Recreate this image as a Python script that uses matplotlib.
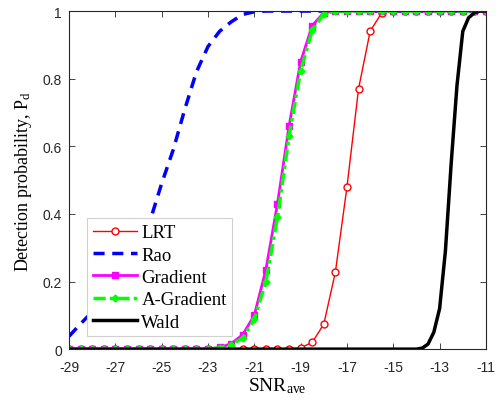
import numpy as np
import matplotlib
matplotlib.use("Agg")
import matplotlib.pyplot as plt

plt.rcParams['mathtext.fontset'] = 'custom'
plt.rcParams['mathtext.rm'] = 'Liberation Serif'
plt.rcParams['mathtext.it'] = 'Liberation Serif:italic'

snr = np.arange(-29, -10.99, 0.5)

lrt = [0]*20 + [0.004, 0.02, 0.074, 0.228, 0.48, 0.77, 0.94, 0.995] + [1.0]*9
rao = [0.038, 0.075, 0.11, 0.15, 0.195, 0.245, 0.30, 0.38, 0.49, 0.59, 0.71,
       0.82, 0.895, 0.94, 0.968, 0.99, 0.998] + [1.0]*20
grad = [0]*13 + [0.005, 0.016, 0.043, 0.10, 0.235, 0.43, 0.66, 0.85, 0.957,
                 0.995] + [1.0]*14
agrad = [0]*13 + [0.004, 0.013, 0.033, 0.088, 0.20, 0.39, 0.63, 0.824, 0.943,
                  0.992] + [1.0]*14
wald_x = [-29, -28, -27, -26, -25, -24, -23, -22, -21, -20, -19, -18, -17, -16,
          -15, -14, -13.75, -13.5, -13.25, -13, -12.75, -12.5, -12.25, -12,
          -11.75, -11.5, -11.25, -11]
wald = [0]*16 + [0.003, 0.015, 0.05, 0.12, 0.29, 0.55, 0.78, 0.94, 0.98,
                 0.995, 1.0, 1.0]

xticks = list(range(-29, -10, 2))
yticks = [0, 0.2, 0.4, 0.6, 0.8, 1]

fig = plt.figure(figsize=(5.02, 4.02), dpi=100)
ax = fig.add_axes([0.1375, 0.129, 0.8305, 0.841])

ax.plot(snr, lrt, color='red', lw=1, marker='o', ms=5, mfc='white',
        mec='red', mew=1, label='LRT')
ax.plot(snr, rao, color='blue', lw=2.5, ls=(0, (3.2, 2.2)), label='Rao')
ax.plot(snr, grad, color='magenta', lw=2, marker='s', ms=4.5, mfc='magenta',
        mec='magenta', label='Gradient')
ax.plot(snr, agrad, color=(0, 1, 0), lw=2.5, ls=(0, (3.5, 1.2, 1, 1.2)),
        marker='D', ms=3.5, mfc=(0, 1, 0), mec=(0, 1, 0), label='A-Gradient')
ax.plot(wald_x, wald, color='black', lw=2.5, label='Wald')

ax.set_xlim(-29, -11)
ax.set_ylim(0, 1)
ax.set_xticks(xticks)
ax.set_yticks(yticks)
ax.set_xticklabels([str(t) for t in xticks], fontfamily='Liberation Sans', fontsize=10)
ax.set_yticklabels(['0', '0.2', '0.4', '0.6', '0.8', '1'], fontfamily='Liberation Sans', fontsize=10)
ax.tick_params(direction='in', top=True, right=True, length=4, width=0.6,
               colors='#262626')
ax.tick_params(axis='x', pad=8)
ax.tick_params(axis='y', pad=5)
for s in ax.spines.values():
    s.set_color('#262626')
    s.set_linewidth(0.8)

ax.set_xlabel(r'$\mathrm{SNR_{ave}}$', fontsize=14, fontfamily='Liberation Serif', labelpad=1)
ax.set_ylabel(r'Detection probability, $\mathrm{P_d}$', fontsize=13,
              fontfamily='Liberation Serif', labelpad=6)

leg = ax.legend(loc='lower left', bbox_to_anchor=(0.043, 0.038), borderaxespad=0,
                prop={'family': 'Liberation Serif', 'size': 13.5}, fancybox=False,
                framealpha=1, edgecolor='#d0d0d0', handlelength=2.35,
                handletextpad=0.25, labelspacing=0.28, borderpad=0.3)
leg.get_frame().set_linewidth(0.8)

fig.savefig('out.png', dpi=100)
